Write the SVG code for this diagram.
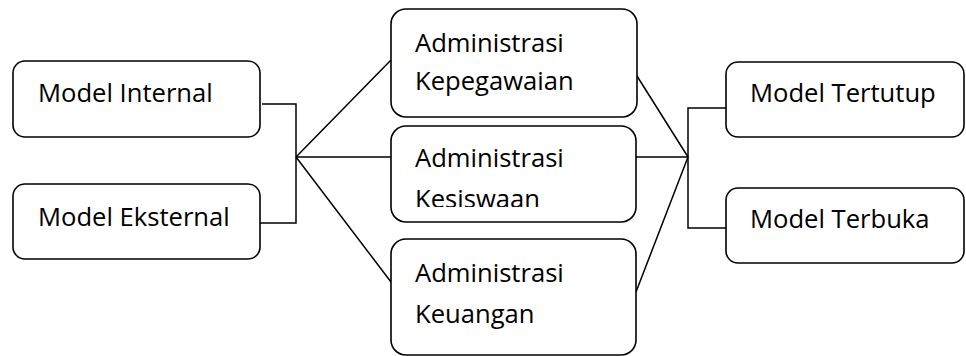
<svg xmlns="http://www.w3.org/2000/svg" width="966" height="356" viewBox="0 0 966 356">
<style>
.box{fill:#fff;stroke:#000;stroke-width:1.6}
.t{font-family:"Open Sans","Noto Sans",sans-serif;font-size:25.6px;fill:#000}
.c{fill:none;stroke:#000;stroke-width:1.5}
</style>
<defs>
<clipPath id="clipKes"><rect x="391" y="126" width="245" height="81"/></clipPath>
</defs>
<g id="connectors">
<path class="c" d="M262 104 H296 V223 H260"/>
<path class="c" d="M296 157 L391 60 M296 157 H391 M296 157 L391 282"/>
<path class="c" d="M637 76 L688 157 M636 157 H688 M636 292 L688 157"/>
<path class="c" d="M726 108 H688 V228 H726"/>
</g>
<g id="model-internal"><rect class="box" x="13" y="61" width="247" height="76" rx="12"/><text class="t" x="38" y="102">Model Internal</text></g>
<g id="model-eksternal"><rect class="box" x="13" y="184" width="247" height="75" rx="12"/><text class="t" x="38" y="226">Model Eksternal</text></g>
<g id="adm-kepegawaian"><rect class="box" x="391" y="9" width="246" height="108" rx="15"/><text class="t" x="415" y="52">Administrasi</text><text class="t" x="415" y="90">Kepegawaian</text></g>
<g id="adm-kesiswaan"><rect class="box" x="391" y="126" width="245" height="96" rx="15"/><text class="t" x="415" y="167">Administrasi</text><text class="t" x="415" y="208" clip-path="url(#clipKes)">Kesiswaan</text></g>
<g id="adm-keuangan"><rect class="box" x="391" y="239" width="245" height="116" rx="15"/><text class="t" x="415" y="282">Administrasi</text><text class="t" x="415" y="323">Keuangan</text></g>
<g id="model-tertutup"><rect class="box" x="726" y="62" width="238" height="75" rx="12"/><text class="t" x="750" y="102">Model Tertutup</text></g>
<g id="model-terbuka"><rect class="box" x="726" y="188" width="238" height="75" rx="12"/><text class="t" x="750" y="228">Model Terbuka</text></g>
</svg>
